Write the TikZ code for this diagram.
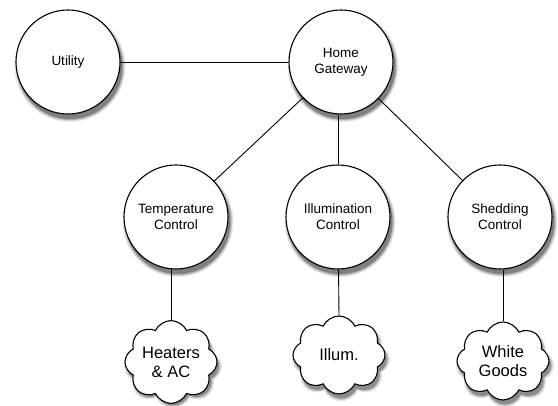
\documentclass[tikz,border=0pt]{standalone}
\usepackage{fontspec}
\setmainfont{Liberation Sans}
\usetikzlibrary{shapes.symbols}
\tikzset{
  circ/.style={circle, draw=black, line width=1.1pt, fill=white, minimum size=104pt, inner sep=0pt, align=center, font=\fontsize{13.5}{16}\selectfont},
  cldbase/.style={cloud, cloud puffs=8, cloud puff arc=130, aspect=1.2, minimum width=92pt, minimum height=78pt, inner sep=0pt},
  cld/.style={cldbase, draw=black, line width=1.1pt, fill=white, align=center, font=\fontsize{16.5}{19}\selectfont},
  cldshd/.style={cldbase, draw=none, fill=black!#1},
  conn/.style={draw=black, line width=0.9pt}
}
\begin{document}
\begin{tikzpicture}[x=1pt,y=1pt]
\useasboundingbox (0,-406) rectangle (558,0);
% shadows
\foreach \cx/\cy in {68/-62, 341/-62, 176/-217, 338/-217, 500/-217}{
  \fill[black!8]  (\cx+2,\cy-4.5) circle (55.5pt);
  \fill[black!18] (\cx+2,\cy-4.5) circle (54.5pt);
  \fill[black!32] (\cx+2,\cy-4.5) circle (53.5pt);
  \fill[black!50] (\cx+2,\cy-4.5) circle (52.5pt);
}
\foreach \n/\cx/\cy in {a/171/-362, b/339/-355, c/503/-361}{
  \node[cldshd=10, minimum width=98pt, minimum height=84pt] (s1\n) at (\cx+2,\cy-4.5) {};
  \node[cldshd=25, minimum width=95pt, minimum height=81pt] (s2\n) at (\cx+2,\cy-4.5) {};
  \node[cldshd=45] (s3\n) at (\cx+2,\cy-4.5) {};
}
% nodes
\node[circ] (util) at (68,-62) {Utility};
\node[circ] (gw) at (341,-62) {Home\\Gateway};
\node[circ] (temp) at (176,-217) {Temperature\\Control};
\node[circ] (ill) at (338,-217) {Illumination\\Control};
\node[circ] (shed) at (500,-217) {Shedding\\Control};
\node[cld] (heat) at (171,-362) {Heaters\\\& AC};
\node[cld] (illum) at (339,-355) {Illum.};
\node[cld] (white) at (503,-361) {White\\Goods};
% connectors
\draw[conn] (util) -- (gw);
\draw[conn] (gw) -- (temp);
\draw[conn] (gw.south -| ill) -- (ill);
\draw[conn] (gw) -- (shed);
\draw[conn] (temp.south -| heat) -- (heat.north);
\draw[conn] (ill) -- (illum.north);
\draw[conn] (shed.south -| white) -- (white.north);
\end{tikzpicture}
\end{document}
